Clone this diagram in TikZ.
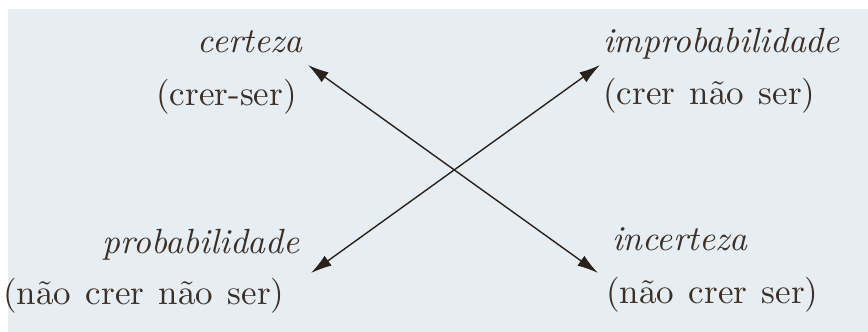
\documentclass[tikz,border=0pt]{standalone}
\usepackage{fontspec}
\setmainfont{lmroman10-regular.otf}[ItalicFont=lmroman10-italic.otf, WordSpace=1.25]
\usetikzlibrary{arrows.meta}
\definecolor{bgblue}{HTML}{E6EEF4}
\definecolor{ink}{HTML}{3B2F26}
\definecolor{arrowink}{HTML}{2A211A}
\tikzset{
  lbl/.style={inner sep=0pt, text=ink, font=\fontsize{35}{42}\selectfont},
  ilbl/.style={lbl, font=\fontsize{35}{42}\selectfont\itshape},
  dblarrow/.style={draw=arrowink, line width=1.4pt,
    {Latex[length=21pt,width=12pt]}-{Latex[length=21pt,width=12pt]}}
}
\begin{document}
\begin{tikzpicture}[x=1pt,y=-1pt]
\useasboundingbox (0,0) rectangle (868,332);
\fill[white] (0,0) rectangle (868,332);
\fill[bgblue] (8,9) rectangle (868,332);
% texts
\node[ilbl, anchor=base east] (cert) at (303,52) {certeza};
\node[lbl, anchor=base east] (cs) at (297,105) {(crer-ser)};
\node[ilbl, anchor=base west] (impr) at (603,52) {improbabilidade};
\node[lbl, anchor=base west] (cns) at (603,104) {(crer não ser)};
\node[ilbl, anchor=base east] (prob) at (300,253) {probabilidade};
\node[lbl, anchor=base west] (ncns) at (3,304) {(não crer não ser)};
\node[ilbl, anchor=base west] (inc) at (612,250) {incerteza};
\node[lbl, anchor=base west] (ncs) at (606,303) {(não crer ser)};
% arrow ends
\coordinate (tl) at (308,65);
\coordinate (br) at (598,273);
\coordinate (tr) at (600,65);
\coordinate (bl) at (311,273);
\draw[dblarrow] (tl) -- (br);
\draw[dblarrow] (bl) -- (tr);
\end{tikzpicture}
\end{document}
